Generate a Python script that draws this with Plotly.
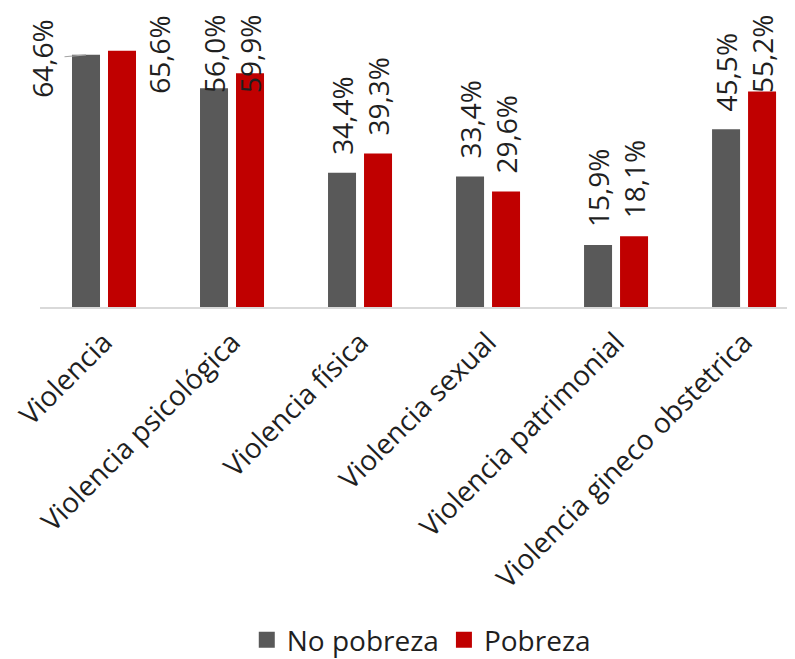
import plotly.graph_objects as go

categories = ["Violencia", "Violencia psicológica", "Violencia física", "Violencia sexual",
              "Violencia patrimonial", "Violencia gineco obstetrica"]
no_pobreza = [64.6, 56.0, 34.4, 33.4, 15.9, 45.5]
pobreza = [65.6, 59.9, 39.3, 29.6, 18.1, 55.2]
series_names = ["No pobreza", "Pobreza"]

GRAY = "#595959"
RED = "#C00000"
FONT = "Open Sans"
FS = 28
TXT = "#1f1f1f"

# the page body adds an 8px offset; compensate in margins
W, H = 795, 659
M_L, M_R, M_T, M_B = 32, 8, 5, 360
YMAX = 75.3
PX_PER_UNIT = (H - M_T - M_B) / YMAX

fig = go.Figure()
for name, vals, col in [(series_names[0], no_pobreza, GRAY), (series_names[1], pobreza, RED)]:
    fig.add_trace(go.Bar(x=categories, y=vals, name=name, marker=dict(color=col, line=dict(width=0)),
                         showlegend=False))
    fig.add_trace(go.Scatter(x=[None], y=[None], mode="markers", name=name,
                             marker=dict(symbol="square", size=19, color=col), showlegend=True))


def fmt(v):
    return f"{v:.1f}".replace(".", ",") + "%"


LABEL_LEN_PX = 80
GAP_PX = 16
annotations = []
for si, (vals, shift) in enumerate([(no_pobreza, -18), (pobreza, 18)]):
    for ci, v in enumerate(vals):
        needed = v + (LABEL_LEN_PX + GAP_PX) / PX_PER_UNIT
        base = dict(x=categories[ci], text=fmt(v), textangle=-90, showarrow=False,
                    font=dict(family=FONT, size=FS, color=TXT), xref="x", yref="y")
        if needed <= YMAX:
            base.update(y=v, yanchor="bottom", yshift=GAP_PX, xshift=shift)
        else:
            overlap_px = (v - (YMAX - LABEL_LEN_PX / PX_PER_UNIT)) * PX_PER_UNIT
            if overlap_px > 30:
                # not enough room: put label beside the bar
                if si == 0:
                    base.update(y=v, yanchor="middle", xshift=shift, showarrow=True,
                                ax=-44, ay=4, axref="pixel", ayref="pixel", arrowhead=0,
                                arrowwidth=1.2, arrowcolor="#A6A6A6", startstandoff=2, standoff=0)
                else:
                    base.update(y=v, yanchor="middle", yshift=-4, xshift=shift + 37)
            else:
                base.update(y=YMAX, yanchor="top", xshift=shift)
        annotations.append(base)

fig.update_layout(
    width=W, height=H,
    margin=dict(l=M_L, r=M_R, t=M_T, b=M_B, autoexpand=False),
    paper_bgcolor="white", plot_bgcolor="white",
    barmode="group", bargap=0.4375, bargroupgap=0.222,
    font=dict(family=FONT, size=FS, color=TXT),
    xaxis=dict(range=[-0.5, 5.398], showline=True, linecolor="#D9D9D9", linewidth=1.5,
               showgrid=False, ticks="", tickangle=-45, ticklabelstandoff=6,
               tickfont=dict(family=FONT, size=FS, color=TXT)),
    yaxis=dict(range=[0, YMAX], visible=False, showgrid=False),
    legend=dict(orientation="h", x=0.505, xanchor="center", y=-1.133, yanchor="middle",
                font=dict(family=FONT, size=FS, color=TXT), itemwidth=30),
    annotations=annotations,
)

fig.write_html("out.html")
